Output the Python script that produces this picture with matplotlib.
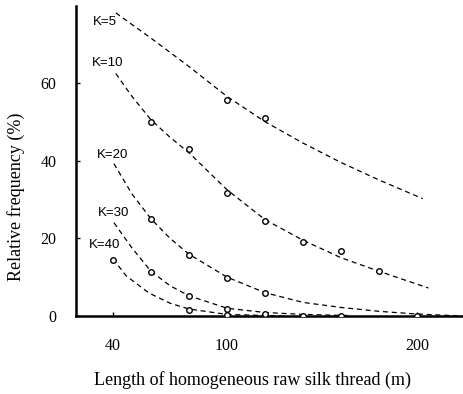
import matplotlib
matplotlib.use('Agg')
import matplotlib.pyplot as plt

# measured points (open circles)
k5_x = [100, 120]
k5_y = [55.7, 51.0]
k10_x = [60, 80, 100, 120, 140, 160, 180]
k10_y = [49.8, 43.0, 31.7, 24.5, 19.0, 16.7, 11.6]
k20_x = [60, 80, 100, 120]
k20_y = [25.0, 15.7, 9.8, 6.0]
k30_x = [60, 80, 100, 120]
k30_y = [11.3, 5.2, 1.8, 0.6]
k40_x = [40, 80, 100, 140, 160, 200]
k40_y = [14.5, 1.6, 0.2, 0.1, 0.1, 0.0]

# dashed curves
c5_x = [41.5, 60, 80, 100, 120, 140, 160, 180, 203]
c5_y = [78.0, 71.5, 64.2, 56.5, 50.0, 44.5, 39.5, 35.0, 30.2]
c10_x = [41.5, 50, 60, 70, 80, 100, 120, 140, 160, 180, 206]
c10_y = [62.4, 56.5, 50.5, 46.0, 42.0, 32.5, 24.8, 19.5, 15.0, 11.5, 7.2]
c20_x = [40.5, 50, 60, 70, 80, 100, 120, 140, 160, 180, 200, 224]
c20_y = [39.2, 31.4, 25.0, 20.0, 15.9, 10.0, 6.0, 3.5, 2.2, 1.2, 0.5, 0.0]
c30_x = [40.5, 50, 60, 70, 80, 100, 120, 140, 165]
c30_y = [24.0, 17.5, 11.5, 7.8, 5.2, 2.0, 0.9, 0.4, 0.1]
c40_x = [40, 47, 59, 70, 80, 100, 130]
c40_y = [14.7, 10.3, 5.9, 3.3, 1.8, 0.4, 0.0]

labels = ['K=5', 'K=10', 'K=20', 'K=30', 'K=40']
label_pos = [(29.5, 75.7), (29.0, 65.1), (31.6, 41.4), (32.1, 26.5), (27.4, 18.3)]

xticks = [40, 100, 200]
yticks = [0, 20, 40, 60]

fig = plt.figure(figsize=(4.63, 3.94), dpi=100)
ax = fig.add_axes([0.164, 0.198, 0.836, 0.787])

serif = 'Liberation Serif'

curves = [(c5_x, c5_y), (c10_x, c10_y), (c20_x, c20_y), (c30_x, c30_y), (c40_x, c40_y)]
for cx, cy in curves:
    ax.plot(cx, cy, color='black', lw=0.9, dashes=(4, 3))

points = [(k5_x, k5_y), (k10_x, k10_y), (k20_x, k20_y), (k30_x, k30_y), (k40_x, k40_y)]
for px, py in points:
    ax.plot(px, py, 'o', ms=4, mfc='white', mec='black', mew=1.0, ls='none', zorder=3)

for lab, (lx, ly) in zip(labels, label_pos):
    ax.text(lx, ly, lab, ha='left', va='center', fontsize=9.5,
            family='Liberation Sans')

ax.set_xlim(20.5, 224.2)
ax.set_ylim(0, 79.8)
ax.set_xticks(xticks)
ax.set_yticks(yticks)
for t in ax.get_xticklabels() + ax.get_yticklabels():
    t.set_family(serif)
    t.set_fontsize(11.5)
ax.tick_params(direction='in', length=3, width=1, pad=14)
ax.tick_params(axis='x', pad=16)

ax.spines['top'].set_visible(False)
ax.spines['right'].set_visible(False)
ax.spines['left'].set_linewidth(1.8)
ax.spines['bottom'].set_linewidth(1.8)

ax.set_ylabel('Relative frequency (%)', family=serif, fontsize=13)
ax.set_xlabel('Length of homogeneous raw silk thread (m)', family=serif,
              fontsize=13)
ax.yaxis.set_label_coords(-0.132, 0.384)
ax.xaxis.set_label_coords(0.457, -0.177)

fig.savefig('out.png', dpi=100)
